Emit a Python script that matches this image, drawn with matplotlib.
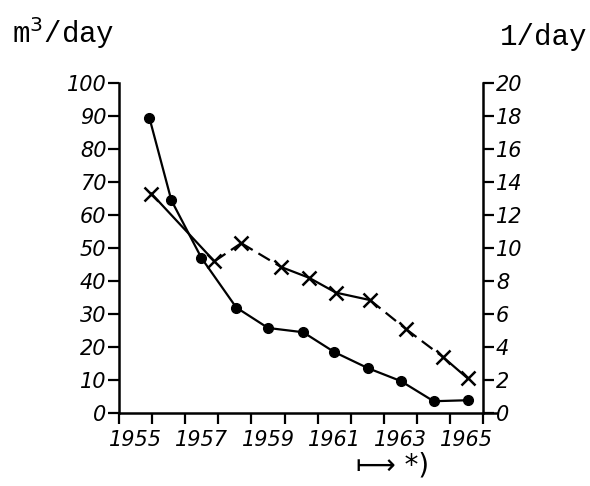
import matplotlib.pyplot as plt
from matplotlib.ticker import FixedLocator

# 数据：左轴 m3/day（圆点），右轴 1/day（叉号）
years_dot = [1955.42, 1956.08, 1956.99, 1958.04, 1959.0, 1960.06,
             1961.0, 1962.02, 1963.01, 1964.0, 1965.03]
m3_day = [89.4, 64.5, 47, 32, 25.8, 24.5, 18.5, 13.6, 9.7, 3.6, 3.9]

years_x = [1955.48, 1957.38, 1958.19, 1959.4, 1960.24, 1961.05,
           1962.08, 1963.16, 1964.28, 1965.03]
l_day = [13.3, 9.2, 10.3, 8.85, 8.2, 7.3, 6.85, 5.1, 3.4, 2.1]

year_labels = [1955, 1957, 1959, 1961, 1963, 1965]
left_ticks = [0, 10, 20, 30, 40, 50, 60, 70, 80, 90, 100]
right_ticks = [0, 2, 4, 6, 8, 10, 12, 14, 16, 18, 20]

tick_font = dict(family=['DejaVu Sans'], style='italic', size=15)

fig = plt.figure(figsize=(5.9, 4.86), dpi=100)
ax = fig.add_axes([0.2017, 0.150, 0.640, 0.679])
ax2 = ax.twinx()

# 圆点曲线（实线）
ax.plot(years_dot, m3_day, color='black', lw=1.6, marker='o', ms=7,
        clip_on=False, zorder=3)

# 叉号曲线：第一段实线，其余部分虚线
seg_styles = ['-', (0, (6, 3)), (0, (6, 3)), '-', '-', '-',
              (0, (6, 3)), (0, (6, 3)), '-']
for i, ls in enumerate(seg_styles):
    ax2.plot(years_x[i:i + 2], l_day[i:i + 2], color='black', lw=1.6,
             ls=ls, clip_on=False)
ax2.plot(years_x, l_day, ls='none', marker='x', ms=10, mew=1.8,
         color='black', clip_on=False)

ax.set_xlim(1954.5, 1965.9)
ax.set_ylim(0, 100)
ax2.set_ylim(0, 20)

for a in (ax, ax2):
    a.spines['top'].set_visible(False)
    for s in a.spines.values():
        s.set_linewidth(1.8)
ax.spines['right'].set_visible(False)
ax2.spines['left'].set_visible(False)
ax2.spines['bottom'].set_visible(False)
ax2.spines['right'].set_position(('data', 1965.5))

# x 轴：刻度在半年处，年份标签居中
ax.xaxis.set_minor_locator(FixedLocator([1954.5 + i for i in range(12)]))
ax.tick_params(axis='x', which='major', length=0, pad=12)
ax.tick_params(axis='x', which='minor', length=8, width=1.6, direction='out')
ax.set_xticks(year_labels)
ax.set_xticklabels([str(y) for y in year_labels], fontdict=tick_font)

ax.set_yticks(left_ticks)
ax.set_yticklabels([str(v) for v in left_ticks], fontdict=tick_font)
ax.tick_params(axis='y', length=8, width=1.6, pad=1)

ax2.set_yticks(right_ticks)
ax2.set_yticklabels([str(v) for v in right_ticks], fontdict=tick_font)
ax2.tick_params(axis='y', length=8, width=1.6, pad=1)

mono = ['Liberation Mono', 'DejaVu Sans Mono']
fig.text(0.02, 0.895, 'm$^3$/day', family=mono, size=21, va='bottom')
fig.text(0.995, 0.895, '1/day', family=mono, size=21, va='bottom', ha='right')
fig.text(0.665, 0.043, '\u27fc *)', family=['DejaVu Sans'], size=20,
         ha='center', va='center')

fig.savefig('out.png', dpi=100)
